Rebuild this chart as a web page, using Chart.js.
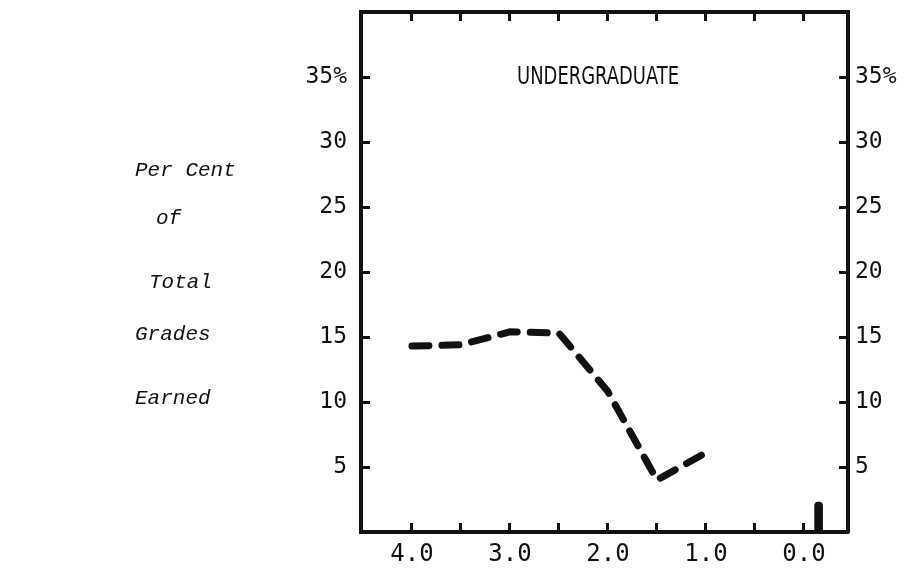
<!DOCTYPE html>
<html lang="en">
<head>
  <meta charset="UTF-8">
  <title>Undergraduate grades</title>
  <script src="https://cdn.jsdelivr.net/npm/chart.js"></script>
  <style>
    html, body { margin: 0; padding: 0; background: #fff; }
    .wrap { position: relative; width: 908px; height: 568px; }
  </style>
</head>
<body>
  <div class="wrap">
    <canvas id="gradesChart" width="908" height="568"></canvas>
  </div>

  <script>
  // grade points (x) and per cent of total grades earned (y)
  const gradePoints = [4.0, 3.5, 3.0, 2.5, 2.0, 1.5, 1.0];
  const undergradPct = [14.3, 14.4, 15.4, 15.3, 10.8, 4.0, 6.1];

  // the short bar drawn just right of 0.0
  const zeroGradeX = [-0.15];
  const zeroGradePct = [2.3];

  // tick marks and labels
  const gradeTicks = [4.0, 3.5, 3.0, 2.5, 2.0, 1.5, 1.0, 0.5, 0.0];
  const pctTicks = [5, 10, 15, 20, 25, 30, 35];
  const sideLabel = ['Per Cent', 'of', 'Total', 'Grades', 'Earned'];
  const panelTitle = 'UNDERGRADUATE';

  const INK = '#111';
  const tickFont = { family: '"DejaVu Sans Mono", monospace', size: 23 };

  const linePts = gradePoints.map((g, i) => ({ x: g, y: undergradPct[i] }));
  const barPts = zeroGradeX.map((g, i) => ({ x: g, y: zeroGradePct[i] }));

  function setTicks(list) {
    return scale => { scale.ticks = list.map(v => ({ value: v })); };
  }
  // fixed box sizes, no extra label padding pushing the chart area around
  function fixSize(w, h) {
    return s => {
      if (w !== null) s.width = w;
      if (h !== null) s.height = h;
      s.paddingTop = 0; s.paddingBottom = 0; s.paddingLeft = 0; s.paddingRight = 0;
    };
  }

  // inward tick marks, framed box
  const inGrid = { display: true, drawOnChartArea: false, drawTicks: true, tickLength: -9, tickWidth: 3, color: INK, offset: false };
  const frame = { display: true, width: 4, color: INK };

  // extra text: panel title and the side caption
  const labelsPlugin = {
    id: 'labels',
    afterDraw(chart) {
      const c = chart.ctx;
      const y = chart.scales.y;
      c.save();
      c.fillStyle = INK;
      c.textBaseline = 'middle';
      c.textAlign = 'center';
      c.font = '25px "Liberation Sans Narrow", "DejaVu Sans Condensed", sans-serif';
      c.fillText(panelTitle, 598, y.getPixelForValue(35), 162);

      c.textAlign = 'left';
      c.font = 'italic 21px "Liberation Mono", "DejaVu Sans Mono", monospace';
      const rowsX = [135, 156, 149, 135, 135];
      const rowsY = [170, 218, 282, 334, 398];
      sideLabel.forEach((t, i) => c.fillText(t, rowsX[i], rowsY[i]));
      c.restore();
    }
  };

  const ctx = document.getElementById('gradesChart').getContext('2d');
  new Chart(ctx, {
    type: 'line',
    data: {
      datasets: [
        {
          label: 'Undergraduate',
          data: linePts,
          borderColor: INK,
          borderWidth: 7,
          borderDash: [17, 13],
          borderCapStyle: 'round',
          pointRadius: 0,
          tension: 0,
          xAxisID: 'x',
          yAxisID: 'y'
        },
        {
          type: 'bar',
          label: 'Grade 0.0',
          data: barPts,
          backgroundColor: INK,
          barThickness: 8,
          borderRadius: 4,
          borderSkipped: 'bottom',
          xAxisID: 'x',
          yAxisID: 'y'
        }
      ]
    },
    options: {
      responsive: false,
      animation: false,
      layout: { padding: { left: 291, right: 0, top: 12, bottom: 0 } },
      plugins: { legend: { display: false }, tooltip: { enabled: false } },
      scales: {
        x: {
          type: 'linear', position: 'bottom', reverse: true, offset: false,
          min: -0.45, max: 4.52,
          afterBuildTicks: setTicks(gradeTicks),
          afterFit: fixSize(null, 36),
          ticks: {
            color: INK, font: { ...tickFont, size: 24 }, padding: 17, maxRotation: 0, autoSkip: false,
            callback: v => (Number.isInteger(v) ? v.toFixed(1) : '')
          },
          grid: inGrid, border: frame
        },
        x2: {
          type: 'linear', position: 'top', reverse: true, offset: false,
          min: -0.45, max: 4.52,
          afterBuildTicks: setTicks(gradeTicks),
          afterFit: fixSize(null, 0),
          ticks: { callback: () => '', autoSkip: false },
          grid: inGrid, border: frame
        },
        y: {
          type: 'linear', position: 'left', min: 0, max: 40,
          afterBuildTicks: setTicks(pctTicks),
          afterFit: fixSize(70, null),
          ticks: { color: INK, font: tickFont, padding: 23, autoSkip: false, callback: v => (v === 35 ? '35%' : v) },
          grid: inGrid, border: frame
        },
        y2: {
          type: 'linear', position: 'right', min: 0, max: 40,
          afterBuildTicks: setTicks(pctTicks),
          afterFit: fixSize(60, null),
          ticks: { color: INK, font: tickFont, padding: 16, autoSkip: false, callback: v => (v === 35 ? '35%' : v) },
          grid: inGrid, border: frame
        }
      }
    },
    plugins: [labelsPlugin]
  });
  </script>
</body>
</html>
